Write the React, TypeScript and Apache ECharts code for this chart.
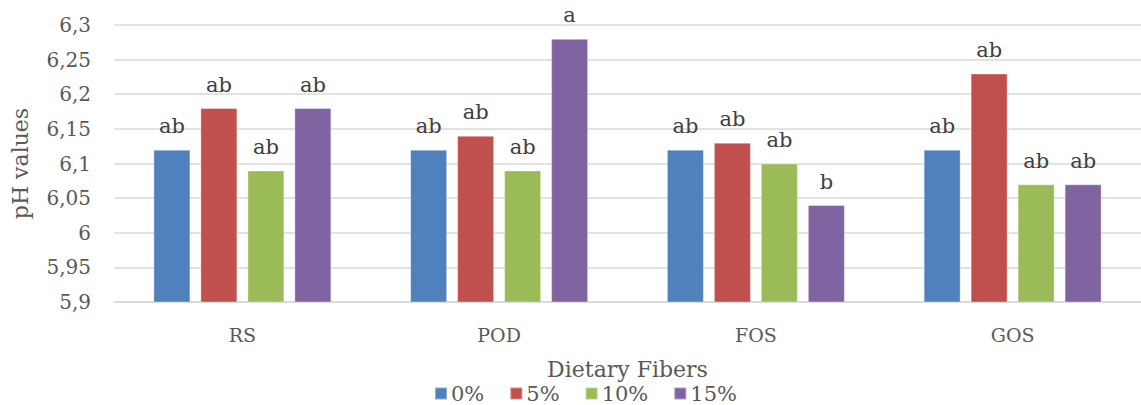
import React, { useEffect, useRef } from "react";
import * as echarts from "echarts";

const categories = ["RS", "POD", "FOS", "GOS"];
const seriesNames = ["0%", "5%", "10%", "15%"];
const values0 = [6.12, 6.12, 6.12, 6.12];
const values5 = [6.18, 6.14, 6.13, 6.23];
const values10 = [6.09, 6.09, 6.1, 6.07];
const values15 = [6.18, 6.28, 6.04, 6.07];
const letters0 = ["ab", "ab", "ab", "ab"];
const letters5 = ["ab", "ab", "ab", "ab"];
const letters10 = ["ab", "ab", "ab", "ab"];
const letters15 = ["ab", "a", "b", "ab"];
const colors = ["#4F81BD", "#C0504D", "#9BBB59", "#8064A2"];

const FONT = "DejaVu Serif";

export default function App() {
  const ref = useRef<HTMLDivElement>(null);
  useEffect(() => {
    if (!ref.current) return;
    const chart = echarts.init(ref.current, undefined, { renderer: "svg" });
    const allValues = [values0, values5, values10, values15];
    const allLetters = [letters0, letters5, letters10, letters15];
    chart.setOption({
      animation: false,
      textStyle: { fontFamily: FONT },
      grid: { left: 114, right: -13, top: 25, bottom: 103, containLabel: false },
      legend: {
        data: seriesNames,
        left: 429,
        top: 383,
        itemWidth: 12,
        itemHeight: 12,
        itemGap: 25,
        icon: "rect",
        padding: [0, 5, 0, 5],
        textStyle: { fontFamily: FONT, fontSize: 21, color: "#595959", padding: [0, 0, 0, -1] },
      },
      xAxis: {
        type: "category",
        data: categories,
        name: "Dietary Fibers",
        nameLocation: "middle",
        nameGap: 56,
        nameTextStyle: { fontFamily: FONT, fontSize: 22, color: "#595959" },
        axisLine: { lineStyle: { color: "#d9d9d9", width: 1.5 } },
        axisTick: { show: false },
        axisLabel: { fontFamily: FONT, fontSize: 19, color: "#595959", margin: 23 },
      },
      yAxis: {
        type: "value",
        min: 5.9,
        max: 6.3,
        interval: 0.05,
        name: "pH values",
        nameLocation: "middle",
        nameGap: 83,
        nameTextStyle: { fontFamily: FONT, fontSize: 22, color: "#595959" },
        axisLine: { show: false },
        axisTick: { show: false },
        splitLine: { lineStyle: { color: "#d9d9d9", width: 1.5 } },
        axisLabel: {
          fontFamily: FONT,
          fontSize: 20,
          color: "#595959",
          margin: 23,
          formatter: (v: number) => String(parseFloat(v.toFixed(2))).replace(".", ","),
        },
      },
      series: seriesNames.map((name, i) => ({
        name,
        type: "bar",
        data: allValues[i],
        barWidth: 37,
        barGap: "27%",
        itemStyle: { color: colors[i], borderColor: "rgba(255,255,255,0.35)", borderWidth: 1 },
        label: {
          show: true,
          position: "top",
          distance: 13,
          fontFamily: FONT,
          fontSize: 21,
          color: "#404040",
          formatter: (p: any) => allLetters[i][p.dataIndex],
        },
      })),
    });
    return () => chart.dispose();
  }, []);
  return (
    <div
      ref={ref}
      style={{ position: "fixed", left: 0, top: 0, width: 1141, height: 405, background: "#fff" }}
    />
  );
}
